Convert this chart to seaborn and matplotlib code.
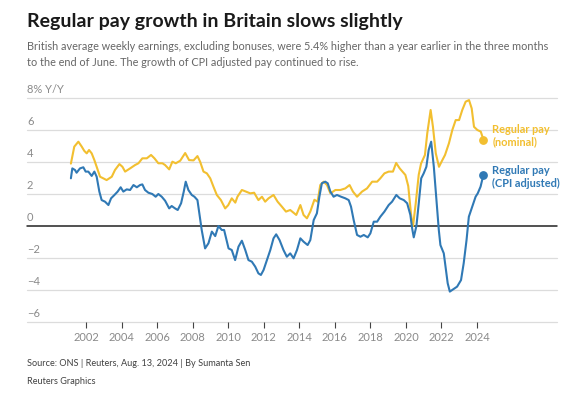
import matplotlib.pyplot as plt
import pandas as pd
import seaborn as sns

# Regular pay, nominal (% y/y)
years_nominal = [2001.15, 2001.34, 2001.57, 2001.76, 2001.90, 2002.04, 2002.17, 2002.32, 2002.47, 2002.60,
                 2002.79, 2002.97, 2003.16, 2003.45, 2003.63, 2003.88, 2004.05, 2004.20, 2004.48, 2004.76,
                 2004.95, 2005.17, 2005.42, 2005.66, 2005.85, 2006.07, 2006.30, 2006.45, 2006.68, 2006.86,
                 2007.05, 2007.30, 2007.58, 2007.80, 2008.05, 2008.27, 2008.42, 2008.61, 2008.80, 2008.99,
                 2009.17, 2009.36, 2009.59, 2009.83, 2010.00, 2010.20, 2010.40, 2010.52, 2010.77, 2011.00,
                 2011.24, 2011.46, 2011.70, 2011.90, 2012.08, 2012.27, 2012.55, 2012.78, 2013.02, 2013.25,
                 2013.49, 2013.83, 2014.06, 2014.24, 2014.43, 2014.62, 2014.85, 2015.03, 2015.18, 2015.37,
                 2015.56, 2015.75, 2016.03, 2016.31, 2016.59, 2016.83, 2017.02, 2017.25, 2017.53, 2017.81,
                 2018.10, 2018.38, 2018.56, 2018.79, 2019.03, 2019.27, 2019.45, 2019.65, 2019.97, 2020.13,
                 2020.30, 2020.40, 2020.55, 2020.72, 2020.85, 2021.07, 2021.20, 2021.39, 2021.52, 2021.68,
                 2021.86, 2022.05, 2022.20, 2022.42, 2022.61, 2022.80, 2022.99, 2023.17, 2023.36, 2023.55,
                 2023.70, 2023.83, 2024.02, 2024.21, 2024.36]
pay_nominal = [3.90, 4.96, 5.27, 4.96, 4.70, 4.54, 4.75, 4.54, 4.12, 3.70,
               3.08, 2.98, 2.87, 3.08, 3.50, 3.87, 3.70, 3.40, 3.60, 3.81,
               3.92, 4.23, 4.23, 4.44, 4.23, 3.92, 3.92, 3.81, 3.54, 4.02,
               3.92, 4.08, 4.56, 4.12, 4.10, 4.37, 4.02, 3.40, 3.29, 2.98,
               2.46, 1.94, 1.62, 1.10, 1.30, 1.73, 1.46, 1.83, 2.25, 2.15,
               2.04, 2.08, 1.62, 1.83, 1.52, 1.73, 1.94, 1.52, 1.21, 0.90,
               1.00, 0.69, 1.31, 0.69, 0.48, 0.90, 1.64, 1.52, 2.56, 2.77,
               2.56, 2.04, 2.25, 2.25, 2.35, 2.56, 2.15, 1.83, 2.15, 2.35,
               2.77, 2.77, 2.98, 3.29, 3.40, 3.40, 3.94, 3.60, 3.19, 2.50,
               0.60, 0.00, 1.40, 3.20, 3.90, 4.44, 5.79, 7.25, 6.20, 4.54,
               3.70, 4.12, 4.44, 5.17, 6.00, 6.62, 6.62, 7.25, 7.77, 7.87,
               7.35, 6.20, 6.00, 5.90, 5.40]

# Regular pay, CPI adjusted (% y/y)
years_cpi = [2001.15, 2001.23, 2001.38, 2001.47, 2001.66, 2001.85, 2001.98, 2002.13, 2002.32, 2002.47,
             2002.60, 2002.75, 2002.88, 2003.07, 2003.26, 2003.41, 2003.60, 2003.78, 2003.95, 2004.10,
             2004.29, 2004.48, 2004.67, 2004.86, 2005.04, 2005.17, 2005.32, 2005.51, 2005.73, 2005.92,
             2006.07, 2006.26, 2006.45, 2006.68, 2006.82, 2007.01, 2007.16, 2007.35, 2007.50, 2007.61,
             2007.76, 2007.95, 2008.10, 2008.27, 2008.51, 2008.70, 2008.89, 2009.08, 2009.27, 2009.45,
             2009.64, 2009.77, 2010.02, 2010.20, 2010.39, 2010.58, 2010.77, 2010.96, 2011.14, 2011.33,
             2011.52, 2011.70, 2011.84, 2011.99, 2012.18, 2012.37, 2012.55, 2012.70, 2012.89, 2013.11,
             2013.30, 2013.49, 2013.68, 2013.87, 2014.06, 2014.24, 2014.47, 2014.62, 2014.81, 2014.99,
             2015.13, 2015.27, 2015.46, 2015.60, 2015.75, 2015.93, 2016.12, 2016.35, 2016.59, 2016.78,
             2016.91, 2017.06, 2017.25, 2017.44, 2017.63, 2017.85, 2018.00, 2018.19, 2018.38, 2018.56,
             2018.79, 2019.03, 2019.22, 2019.46, 2019.65, 2019.88, 2020.07, 2020.25, 2020.35, 2020.44,
             2020.59, 2020.72, 2020.86, 2021.00, 2021.15, 2021.28, 2021.42, 2021.57, 2021.72, 2021.85,
             2021.94, 2022.13, 2022.23, 2022.35, 2022.47, 2022.66, 2022.88, 2023.10, 2023.25, 2023.41,
             2023.54, 2023.73, 2023.92, 2024.04, 2024.20, 2024.36]
pay_cpi = [2.98, 3.60, 3.50, 3.33, 3.60, 3.67, 3.40, 3.40, 3.13, 3.40,
           3.08, 2.15, 1.62, 1.52, 1.31, 1.73, 1.94, 2.15, 2.42, 2.15,
           2.29, 2.25, 2.56, 2.42, 2.56, 2.60, 2.25, 2.08, 2.00, 1.83,
           2.00, 1.83, 1.58, 1.10, 1.25, 1.10, 1.00, 1.42, 2.15, 2.77,
           2.25, 1.94, 1.83, 1.62, -0.25, -1.40, -1.08, -0.35, -0.63, 0.00,
           -0.25, -0.25, -1.40, -1.50, -2.13, -1.29, -0.92, -1.50, -2.13, -2.23,
           -2.54, -2.96, -3.06, -2.75, -2.13, -1.50, -0.77, -0.52, -0.88, -1.50,
           -1.92, -1.71, -2.02, -1.50, -0.77, -0.98, -1.19, -0.88, 0.37, 0.79,
           1.83, 2.67, 2.77, 2.67, 2.15, 1.83, 1.94, 1.83, 1.73, 1.62,
           1.21, 0.37, -0.56, -0.67, -0.56, -0.71, -0.46, 0.27, 0.27, 0.58,
           0.90, 1.31, 1.52, 1.94, 1.73, 1.62, 1.42, 0.69, -0.15, -0.71,
           0.00, 1.40, 2.98, 3.29, 3.70, 4.75, 5.27, 3.70, 1.62, -0.25,
           -1.19, -1.71, -2.54, -3.58, -4.10, -3.96, -3.79, -3.38, -2.33, -0.88,
           0.58, 1.21, 1.83, 2.04, 2.46, 3.20]

y_ticks = [-6, -4, -2, 0, 2, 4, 6, 8]
y_tick_labels = ["−6", "−4", "−2", "0", "2", "4", "6", "8% Y/Y"]
x_ticks = list(range(2002, 2025, 2))

yellow = "#f2bf30"
blue = "#3079b5"

df = pd.concat([
    pd.DataFrame({"year": years_nominal, "pay": pay_nominal, "series": "nominal"}),
    pd.DataFrame({"year": years_cpi, "pay": pay_cpi, "series": "cpi"}),
])

sns.set_theme(style="white")
plt.rcParams['font.family'] = ['Lato', 'DejaVu Sans']

W, H = 564, 398
fig = plt.figure(figsize=(W / 100, H / 100), dpi=100)
ax = fig.add_axes([27 / W, 1 - 322 / H, 530 / W, 224 / H])

# gridlines + zero line
for t in y_ticks:
    if t == 0:
        ax.axhline(t, color="#222222", lw=1.1, zorder=1, clip_on=False)
    else:
        ax.axhline(t, color="#dcdcdc", lw=0.9, zorder=0, clip_on=False)
    ax.annotate(y_tick_labels[y_ticks.index(t)], xy=(0, t), xycoords=("axes fraction", "data"),
                xytext=(0, 2), textcoords="offset points", ha="left", va="bottom",
                fontsize=8, color="#8a8a8a")

sns.lineplot(data=df, x="year", y="pay", hue="series", palette={"nominal": yellow, "cpi": blue},
             lw=1.5, legend=False, ax=ax, zorder=3)
ax.scatter([years_nominal[-1]], [pay_nominal[-1]], s=28, color=yellow, zorder=4)
ax.scatter([years_cpi[-1]], [pay_cpi[-1]], s=28, color=blue, zorder=4)

ax.text(2024.85, 5.66, "Regular pay\n(nominal)", color=yellow, fontsize=7.9, fontweight="bold",
        va="center", ha="left", linespacing=1.15)
ax.text(2024.85, 3.06, "Regular pay\n(CPI adjusted)", color=blue, fontsize=7.9, fontweight="bold",
        va="center", ha="left", linespacing=1.15)

ax.set_xlim(1998.68, 2028.5)
ax.set_ylim(-6, 8)
ax.set_yticks([])
ax.set_xticks(x_ticks)
ax.set_xticklabels([str(x) for x in x_ticks])
ax.tick_params(axis="x", bottom=True, length=4, width=0.8, color="#444444",
               labelcolor="#8a8a8a", labelsize=8, pad=3)
ax.set_xlabel("")
ax.set_ylabel("")
for s in ax.spines.values():
    s.set_visible(False)

fig.text(27 / W, 1 - 21 / H, "Regular pay growth in Britain slows slightly", fontsize=14,
         fontweight="bold", color="#1a1a1a", va="center", ha="left")
fig.text(27 / W, 1 - 47 / H, "British average weekly earnings, excluding bonuses, were 5.4% higher than a year earlier in the three months",
         fontsize=7.85, color="#666666", va="center", ha="left")
fig.text(27 / W, 1 - 62 / H, "to the end of June. The growth of CPI adjusted pay continued to rise.",
         fontsize=7.85, color="#666666", va="center", ha="left")
fig.text(27 / W, 1 - 364 / H, "Source: ONS | Reuters, Aug. 13, 2024 | By Sumanta Sen",
         fontsize=6.6, color="#404040", va="center", ha="left")
fig.text(27 / W, 1 - 381 / H, "Reuters Graphics", fontsize=6.6, color="#404040", va="center", ha="left")

fig.savefig("out.png", dpi=100)
